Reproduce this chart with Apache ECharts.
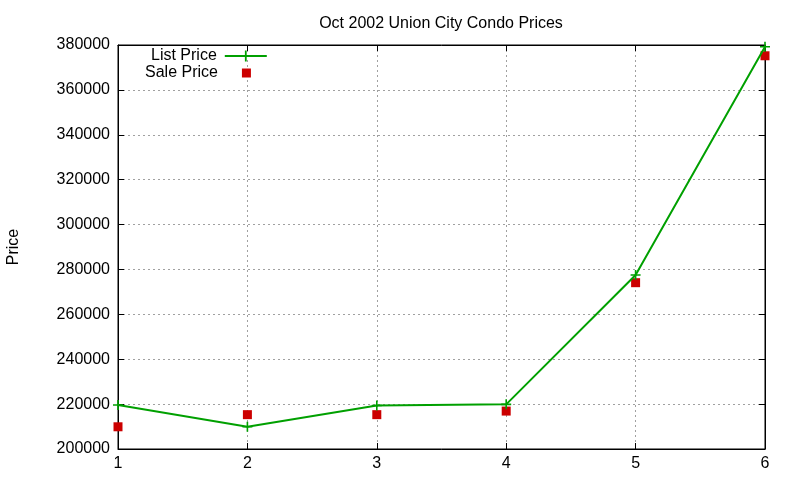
<!DOCTYPE html>
<html>
<head>
<meta charset="utf-8">
<script src="https://cdn.jsdelivr.net/npm/echarts@6/dist/echarts.min.js"></script>
<style>html,body{margin:0;padding:0;background:#fff}#chart{width:800px;height:480px}</style>
</head>
<body>
<div id="chart"></div>
<script>
var xdata = [1, 2, 3, 4, 5, 6];
var listPrice = [219600, 209900, 219400, 219900, 277500, 379200];
var salePrice = [209900, 215300, 215300, 216900, 274100, 375200];

var font = 'Liberation Sans';
var plus = 'path://M4.2,0H5.8V4.2H10V5.8H5.8V10H4.2V5.8H0V4.2H4.2Z';

var myChart = echarts.init(document.getElementById('chart'));

function pairs(vals) {
    var out = [];
    for (var i = 0; i < xdata.length; i++) out.push([xdata[i], vals[i]]);
    return out;
}

var option = {
    animation: false,
    title: {
        text: 'Oct 2002 Union City Condo Prices',
        left: 436, top: 11, textAlign: 'center',
        textStyle: {fontFamily: font, fontSize: 16, fontWeight: 'normal', color: '#000'}
    },
    legend: [
        {
            data: ['List Price'],
            left: 151, top: 48, align: 'right', padding: 0,
            itemWidth: 42, itemHeight: 14,
            textStyle: {fontFamily: font, fontSize: 16, color: '#000', padding: [0, 3, 0, 0]}
        },
        {
            data: [{name: 'Sale Price', icon: 'rect'}],
            left: 145, top: 65, align: 'right', padding: 0,
            itemWidth: 9, itemHeight: 9,
            textStyle: {fontFamily: font, fontSize: 16, color: '#000', padding: [0, 19, 0, 0]}
        }
    ],
    grid: {left: 118, right: 35, top: 45, bottom: 31, show: true, borderColor: '#000', borderWidth: 1,
        containLabel: false, outerBoundsMode: 'none'},
    xAxis: [
        {
            type: 'value', min: 1, max: 6, interval: 1,
            axisLine: {lineStyle: {color: '#000'}},
            axisTick: {inside: true, length: 6, lineStyle: {color: '#000'}},
            axisLabel: {fontFamily: font, fontSize: 16, color: '#000', margin: 7},
            splitLine: {show: true, lineStyle: {color: '#a0a0a0', type: [2, 3]}}
        },
        {
            type: 'value', min: 1, max: 6, interval: 1, position: 'top',
            axisLine: {lineStyle: {color: '#000'}},
            axisTick: {inside: true, length: 6, lineStyle: {color: '#000'}},
            axisLabel: {show: false},
            splitLine: {show: false}
        }
    ],
    yAxis: [
        {
            type: 'value', min: 200000, max: 380000, interval: 20000,
            name: 'Price', nameLocation: 'middle', nameGap: 96,
            nameTextStyle: {fontFamily: font, fontSize: 16, color: '#000'},
            axisLine: {show: true, lineStyle: {color: '#000'}},
            axisTick: {show: true, inside: true, length: 6, lineStyle: {color: '#000'}},
            axisLabel: {fontFamily: font, fontSize: 16, color: '#000', margin: 8,
                formatter: function (v) { return String(v); }},
            splitLine: {show: true, lineStyle: {color: '#a0a0a0', type: [2, 3]}}
        },
        {
            type: 'value', min: 200000, max: 380000, interval: 20000, position: 'right',
            axisLine: {show: true, lineStyle: {color: '#000'}},
            axisTick: {show: true, inside: true, length: 6, lineStyle: {color: '#000'}},
            axisLabel: {show: false},
            splitLine: {show: false}
        }
    ],
    series: [
        {
            name: 'List Price', type: 'line',
            data: pairs(listPrice),
            symbol: plus, symbolSize: 10, showAllSymbol: true,
            lineStyle: {color: '#00a000', width: 2},
            itemStyle: {color: '#00a000'},
            z: 3
        },
        {
            name: 'Sale Price', type: 'scatter',
            data: pairs(salePrice),
            symbol: 'rect', symbolSize: 9,
            itemStyle: {color: '#cc0000', opacity: 1},
            z: 2
        }
    ]
};

myChart.setOption(option);
</script>
</body>
</html>
